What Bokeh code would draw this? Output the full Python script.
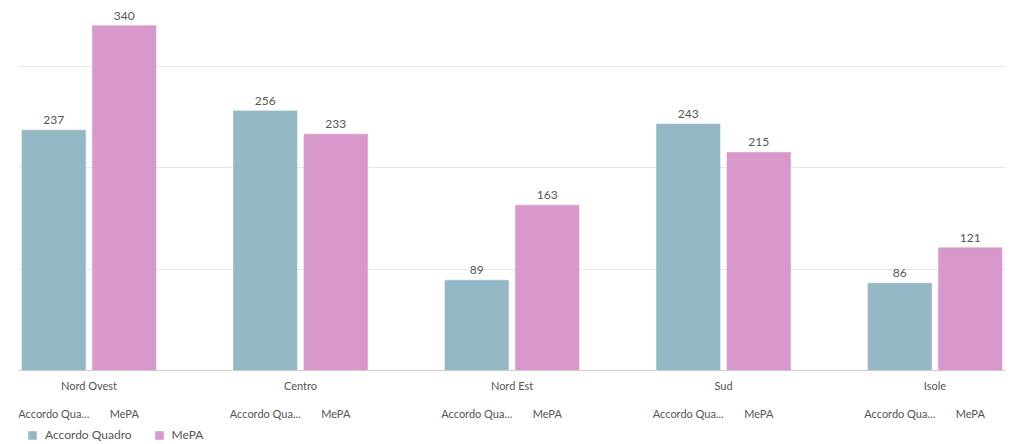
from bokeh.plotting import figure
from bokeh.models import (FactorRange, Legend, LegendItem, ColumnDataSource, Range1d,
                          FixedTicker, Span)
from bokeh.core.properties import value
from bokeh.embed import file_html
from bokeh.resources import INLINE

regions = ["Nord Ovest", "Centro", "Nord Est", "Sud", "Isole"]
series = ["Accordo Quadro", "MePA"]
series_ticks = ["Accordo Qua...", "MePA"]
accordo = [237, 256, 89, 243, 86]
mepa = [340, 233, 163, 215, 121]
colors = ["#94b8c5", "#d898cc"]

FONT = "Lato"
TXT = "#555555"
GP = 1.0

p = figure(frame_width=987, frame_height=432,
           x_range=FactorRange(*[(r, t) for r in regions for t in series_ticks],
                               group_padding=GP, range_padding=0),
           y_range=Range1d(-71, 355),
           output_backend="svg", toolbar_location=None,
           x_axis_location=None,
           min_border_left=18, min_border_right=3, min_border_top=10, min_border_bottom=0)
p.outline_line_color = None
p.yaxis.visible = False
p.xgrid.visible = False
p.ygrid.ticker = FixedTicker(ticks=[100, 200, 300])
p.ygrid.grid_line_color = "#e6e6e6"

n_s = len(series_ticks)
p.extra_x_ranges = {"reg": FactorRange(*regions, factor_padding=n_s + GP - 1,
                                       range_padding=(n_s - 1) / 2,
                                       range_padding_units="absolute")}

# baseline
p.add_layout(Span(location=0, dimension="width", line_color="#cccccc", line_width=1))

renderers = []
for i, (name, vals) in enumerate(zip(series, [accordo, mepa])):
    src = ColumnDataSource(dict(x=[(r, series_ticks[i]) for r in regions], top=vals,
                                lab=[str(v) for v in vals],
                                sub=[series_ticks[i]] * len(regions),
                                zero=[0] * len(regions)))
    r = p.vbar(x="x", top="top", width=0.9, source=src, fill_color=colors[i],
               line_color=colors[i], line_alpha=0.6)
    renderers.append(r)
    p.text(x="x", y="top", text="lab", source=src, text_align="center",
           text_baseline="bottom", y_offset=-6, text_font=value(FONT),
           text_font_size="12px", text_color=TXT)
    # sub-category labels under each bar
    p.text(x="x", y="zero", text="sub", source=src, text_align="center",
           text_baseline="middle", y_offset=43, text_font=value(FONT),
           text_font_size="11px", text_color=TXT)

# region labels
reg_src = ColumnDataSource(dict(x=regions, y=[0] * len(regions), t=regions))
p.text(x="x", y="y", text="t", source=reg_src, x_range_name="reg",
       text_align="center", text_baseline="middle", y_offset=15,
       text_font=value(FONT), text_font_size="11px", text_color=TXT)

legend = Legend(items=[LegendItem(label=s, renderers=[r]) for s, r in zip(series, renderers)],
                orientation="horizontal", location=(9, 0),
                border_line_color=None, background_fill_alpha=0,
                label_text_font=FONT, label_text_font_size="12px", label_text_color=TXT,
                glyph_width=10, glyph_height=10, label_height=12, spacing=22,
                padding=0, margin=0, label_standoff=8)
p.add_layout(legend)

open("out.html", "w").write(file_html(p, INLINE))
